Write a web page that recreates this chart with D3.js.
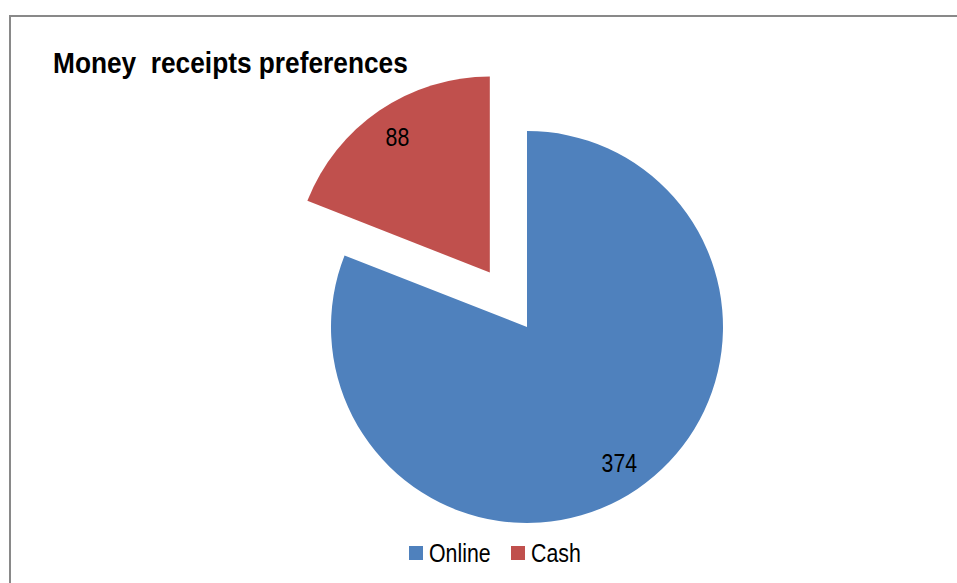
<!DOCTYPE html>
<meta charset="utf-8">
<script src="https://d3js.org/d3.v7.min.js"></script>
<style>
  body { margin: 0; background: #fff; }
  text { font-family: "Liberation Sans Narrow", "Arial Narrow", "Liberation Sans", sans-serif; }
</style>
<div id="chart"></div>
<script>

// data
var categories = ["Online", "Cash"];
var values = [374, 88];
var colors = ["#4F81BD", "#C0504D"];
var title = "Money  receipts preferences";

var width = 957, height = 583;
// no narrow font installed, so squeeze the regular one horizontally
var narrow = 0.82;

var svg = d3.select("#chart")
  .append("svg")
    .attr("width", width)
    .attr("height", height);

// chart frame (right and bottom edge fall outside the picture)
svg.append("rect")
  .attr("x", 10)
  .attr("y", 16)
  .attr("width", 960)
  .attr("height", 600)
  .attr("fill", "none")
  .attr("stroke", "#898989")
  .attr("stroke-width", 2);

// title
svg.append("text")
  .attr("transform", "translate(53,73) scale(0.876,1)")
  .style("font-weight", "bold")
  .style("font-size", "30px")
  .style("white-space", "pre")
  .attr("xml:space", "preserve")
  .text(title);

// pie
var cx = 527, cy = 327, radius = 196, explode = 66;

var pie = d3.pie().sort(null).value(function(d){ return d.value; });
var data = pie(categories.map(function(c, i){ return {name: c, value: values[i], color: colors[i]}; }));

var arc = d3.arc().innerRadius(0).outerRadius(radius);
var labelArc = d3.arc().innerRadius(164).outerRadius(164);

function shift(d){
  // only the Cash slice is pulled out
  if (d.data.name !== "Cash") return [0, 0];
  var a = (d.startAngle + d.endAngle) / 2;
  return [Math.sin(a) * explode, -Math.cos(a) * explode];
}

var slices = svg.append("g")
  .attr("transform", "translate(" + cx + "," + cy + ")")
  .selectAll("g")
  .data(data)
  .enter()
  .append("g")
    .attr("transform", function(d){ var s = shift(d); return "translate(" + s[0] + "," + s[1] + ")"; });

slices.append("path")
  .attr("d", arc)
  .attr("fill", function(d){ return d.data.color; });

slices.append("text")
  .attr("transform", function(d){ return "translate(" + labelArc.centroid(d) + ") scale(" + narrow + ",1)"; })
  .attr("text-anchor", "middle")
  .attr("dy", "0.36em")
  .style("font-size", "26px")
  .attr("fill", "#000")
  .text(function(d){ return d.data.value; });

// legend
var legendX = [409, 511];
var legend = svg.append("g")
  .selectAll("g")
  .data(categories)
  .enter()
  .append("g")
    .attr("transform", function(d, i){ return "translate(" + legendX[i] + ",546)"; });

legend.append("rect")
  .attr("width", 14)
  .attr("height", 14)
  .attr("fill", function(d, i){ return colors[i]; });

legend.append("text")
  .attr("transform", "translate(20,16) scale(" + narrow + ",1)")
  .style("font-size", "26px")
  .text(function(d){ return d; });

</script>
